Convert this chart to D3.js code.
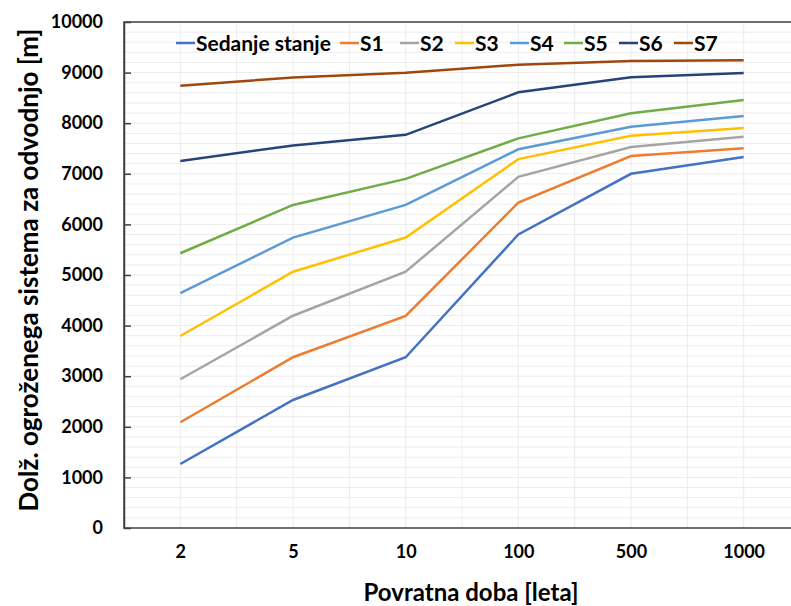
<!DOCTYPE html>
<html>
<head>
<meta charset="utf-8">
<script src="https://cdn.jsdelivr.net/npm/d3@7"></script>
<style>
  body { margin: 0; background: #fff; }
  text { font-family: Lato, "Open Sans", sans-serif; font-weight: bold; fill: #000; }
</style>
</head>
<body>
<div class="canvas"></div>
<script>
// data
const periods = ["2", "5", "10", "100", "500", "1000"];
const seriesNames = ["Sedanje stanje", "S1", "S2", "S3", "S4", "S5", "S6", "S7"];
const colors = ["#4472C4", "#ED7D31", "#A5A5A5", "#FFC000", "#5B9BD5", "#70AD47", "#264478", "#9E480E"];
const sedanje = [1265, 2530, 3375, 5800, 7000, 7330];
const s1 = [2090, 3375, 4190, 6430, 7350, 7505];
const s2 = [2940, 4195, 5065, 6940, 7530, 7730];
const s3 = [3795, 5065, 5740, 7290, 7750, 7905];
const s4 = [4640, 5740, 6385, 7485, 7930, 8140];
const s5 = [5430, 6385, 6900, 7700, 8195, 8460];
const s6 = [7255, 7560, 7770, 8610, 8910, 8990];
const s7 = [8740, 8905, 8995, 9155, 9230, 9245];
const yTicks = [0, 1000, 2000, 3000, 4000, 5000, 6000, 7000, 8000, 9000, 10000];

const allSeries = [sedanje, s1, s2, s3, s4, s5, s6, s7];

const width = 791, height = 606;
const margin = { left: 124, right: 800, top: 22, bottom: 528 };

const svg = d3.select(".canvas").append("svg")
  .attr("width", width)
  .attr("height", height);

//scales
const x = d3.scalePoint().domain(periods).range([margin.left, margin.right]).padding(0.5);
const band = d3.scaleBand().domain(periods).range([margin.left, margin.right]);
const y = d3.scaleLinear().domain([0, 10000]).range([margin.bottom, margin.top]);

//gridlines - horizontal every 200
const grid = svg.append("g").attr("class", "grid");
grid.selectAll("line.h")
  .data(d3.range(200, 10001, 200))
  .enter().append("line")
  .attr("class", "h")
  .attr("x1", margin.left).attr("x2", margin.right)
  .attr("y1", d => y(d)).attr("y2", d => y(d))
  .attr("stroke", "#ececec").attr("stroke-width", 1);

//vertical gridlines at category centres and band edges
const vx = [];
periods.forEach((p, i) => {
  vx.push(x(p));
  if (i > 0) vx.push(band(p));
});
grid.selectAll("line.v")
  .data(vx)
  .enter().append("line")
  .attr("class", "v")
  .attr("x1", d => d).attr("x2", d => d)
  .attr("y1", margin.top).attr("y2", margin.bottom)
  .attr("stroke", "#ececec").attr("stroke-width", 1);

//frame
svg.append("rect")
  .attr("x", margin.left).attr("y", margin.top)
  .attr("width", margin.right - margin.left).attr("height", margin.bottom - margin.top)
  .attr("fill", "none").attr("stroke", "#404040").attr("stroke-width", 1.5);

//y axis
const yAxis = d3.axisLeft(y).tickValues(yTicks).tickFormat(d3.format("d"))
  .tickSizeInner(-7).tickSizeOuter(0).tickPadding(21);
const yAxisGroup = svg.append("g").attr("transform", `translate(${margin.left},0)`).call(yAxis);
yAxisGroup.select(".domain").attr("stroke", "#404040").attr("stroke-width", 1.5);
yAxisGroup.selectAll(".tick line").attr("stroke", "#404040").attr("stroke-width", 1.5);
yAxisGroup.selectAll("text").style("font-size", "18px");

//x axis
const xAxis = d3.axisBottom(x).tickSize(0).tickPadding(17);
const xAxisGroup = svg.append("g").attr("transform", `translate(0,${margin.bottom})`).call(xAxis);
xAxisGroup.select(".domain").remove();
xAxisGroup.selectAll("text").style("font-size", "18px");

//lines
const line = d3.line()
  .x((d, i) => x(periods[i]))
  .y(d => y(d));

svg.append("g").selectAll("path")
  .data(allSeries)
  .enter().append("path")
  .attr("fill", "none")
  .attr("stroke", (d, i) => colors[i])
  .attr("stroke-width", 2.5)
  .attr("d", line);

//legend
const legendX = [176, 340, 400, 455, 510, 564, 619, 674];
const legend = svg.append("g").attr("transform", "translate(0,43)");
const items = legend.selectAll("g")
  .data(seriesNames)
  .enter().append("g")
  .attr("transform", (d, i) => `translate(${legendX[i]},0)`);
items.append("line")
  .attr("x1", 0).attr("x2", 19)
  .attr("stroke", (d, i) => colors[i]).attr("stroke-width", 2.5);
items.append("text")
  .attr("x", 20).attr("dy", "0.36em")
  .style("font-size", "21px")
  .text(d => d);

//axis titles
svg.append("text")
  .attr("x", 471).attr("y", 601)
  .attr("text-anchor", "middle")
  .style("font-size", "24px")
  .text("Povratna doba [leta]");

svg.append("text")
  .attr("transform", `translate(29,270) rotate(-90)`)
  .attr("text-anchor", "middle").attr("dy", "0.35em")
  .style("font-size", "26px")
  .text("Dolž. ogroženega sistema za odvodnjo [m]");
</script>
</body>
</html>
